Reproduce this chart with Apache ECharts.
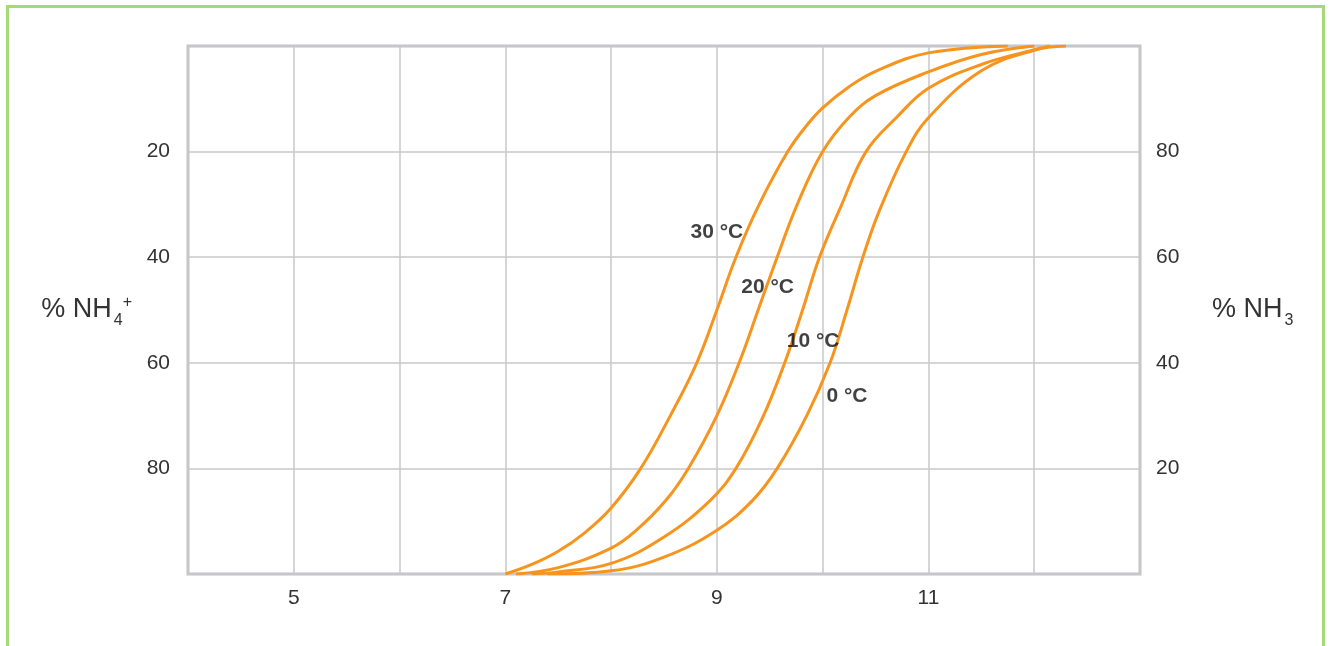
<!DOCTYPE html>
<html>
<head>
<meta charset="utf-8">
<script src="https://cdn.jsdelivr.net/npm/echarts@6/dist/echarts.min.js"></script>
<style>
html,body{margin:0;padding:0;background:#fff;}
#frame{position:absolute;left:6px;top:5px;width:1319px;height:660px;border:3px solid #a6d97a;border-bottom:none;box-sizing:border-box;}
#chart{position:absolute;left:0;top:0;width:1332px;height:646px;}
</style>
</head>
<body>
<div id="frame"></div>
<div id="chart"></div>
<script>
// pH vs % NH3 for each temperature
const curve30 = [[7.0,0],[7.25,1.8],[7.5,4.3],[7.75,7.8],[8.0,12.5],[8.28,20],[8.56,30],[8.81,40],[9.0,50],[9.18,60],[9.4,70],[9.67,80],[9.85,85],[10.0,88.3],[10.25,92.3],[10.5,95.2],[11.0,98.7],[11.75,100]];
const curve20 = [[7.1,0],[7.5,1.2],[8.0,4.9],[8.25,8.5],[8.52,14],[8.73,20],[9.0,30],[9.22,40.5],[9.39,50],[9.57,60],[9.76,70],[10.0,80],[10.25,86.5],[10.5,90.6],[11.0,95.1],[11.5,98.4],[12.0,100]];
const curve10 = [[7.25,0],[7.5,0.4],[8.0,2.0],[8.5,7.0],[8.94,14],[9.18,20],[9.43,29.5],[9.65,40.5],[9.81,50],[9.97,60],[10.17,69.5],[10.41,80],[10.7,86.5],[11.0,92],[11.5,96.5],[12.0,99.3],[12.15,100]];
const curve0  = [[7.4,0],[8.0,0.6],[8.5,3.2],[9.0,8.3],[9.34,14],[9.57,20],[9.85,30],[10.07,40],[10.23,50],[10.38,60],[10.54,69],[10.79,80],[11.0,86.4],[11.5,95.3],[12.0,99.2],[12.3,100]];

const curveNames = ['30 °C','20 °C','10 °C','0 °C'];
const labelPH  = [9.0, 9.48, 9.91, 10.23];
const labelNH3 = [64.8, 54.4, 44.1, 33.7];

const xTickLabels = [5,7,9,11];
const leftTickLabels = [20,40,60,80];
const rightTickLabels = [20,40,60,80];

const chart = echarts.init(document.getElementById('chart'));
const orange = '#f7941d';
const curves = [curve30, curve20, curve10, curve0];
const FONT = '"Liberation Sans", Arial, sans-serif';

const series = curves.map((c,i)=>({
  type:'line', name: curveNames[i], data:c, yAxisIndex:1,
  smooth:0.4, symbol:'none',
  lineStyle:{color:orange,width:3}, z:3
}));
series.push({
  type:'scatter', yAxisIndex:1, symbolSize:0, silent:true, z:5,
  data: curveNames.map((n,i)=>({value:[labelPH[i],labelNH3[i]], name:n})),
  label:{show:true, position:'inside', formatter:p=>p.name, color:'#111',
         fontSize:21, fontFamily:FONT, fontWeight:'bold'}
});

chart.setOption({
  animation:false,
  grid:{left:188,right:192,top:46,bottom:72,show:true,borderColor:'#c2c2c6',borderWidth:3,backgroundColor:'#fff'},
  xAxis:{type:'value',min:4,max:13,interval:1,
    axisLine:{show:false},axisTick:{show:false},
    splitLine:{show:true,lineStyle:{color:'#c8c8ca',width:1.5}},
    axisLabel:{margin:14,color:'#333',fontSize:21,fontFamily:FONT,
      formatter:v=>xTickLabels.includes(v)?String(v):''}
  },
  yAxis:[
    {type:'value',min:0,max:100,interval:20,inverse:true,position:'left',
     axisLine:{show:false},axisTick:{show:false},
     splitLine:{show:true,lineStyle:{color:'#c8c8ca',width:1.5}},
     axisLabel:{margin:18,color:'#333',fontSize:21,fontFamily:FONT,
       formatter:v=>leftTickLabels.includes(v)?String(v):''},
     name:'{n|% NH}{sub|4}{sup|+}',nameLocation:'middle',nameRotate:0,nameGap:56,
     nameTextStyle:{align:'right',rich:{
       n:{fontSize:27,fontFamily:FONT,color:'#333',lineHeight:40},
       sub:{fontSize:16,fontFamily:FONT,color:'#333',lineHeight:40,padding:[22,0,0,2]},
       sup:{fontSize:16,fontFamily:FONT,color:'#333',lineHeight:40,padding:[0,0,14,0]}
     }}
    },
    {type:'value',min:0,max:100,interval:20,position:'right',
     axisLine:{show:false},axisTick:{show:false},splitLine:{show:false},
     axisLabel:{margin:16,color:'#333',fontSize:21,fontFamily:FONT,
       formatter:v=>rightTickLabels.includes(v)?String(v):''},
     name:'{n|% NH}{sub|3}',nameLocation:'middle',nameRotate:0,nameGap:72,
     nameTextStyle:{align:'left',rich:{
       n:{fontSize:27,fontFamily:FONT,color:'#333',lineHeight:40},
       sub:{fontSize:16,fontFamily:FONT,color:'#333',lineHeight:40,padding:[22,0,0,2]}
     }}
    }
  ],
  series:series
});
</script>
</body>
</html>
